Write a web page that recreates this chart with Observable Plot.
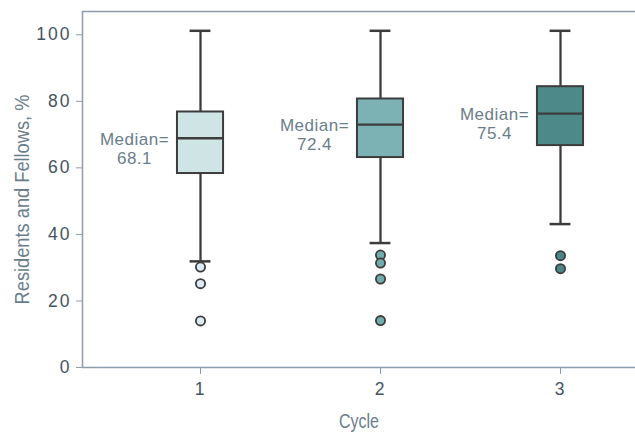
<!DOCTYPE html>
<html>
<head>
<meta charset="utf-8">
<script src="https://cdn.jsdelivr.net/npm/d3@7"></script>
<script src="https://cdn.jsdelivr.net/npm/@observablehq/plot@0.6"></script>
<style>
  html, body { margin: 0; padding: 0; background: #fff; }
  #chart svg { display: block; }
</style>
</head>
<body>
<div id="chart"></div>
<script>
// Data
const cycles = [1, 2, 3];
const whiskerLow = [31.9, 37.4, 43.1];
const q1 = [58.3, 63.1, 66.7];
const medianLine = [68.9, 73.0, 76.3];
const q3 = [76.8, 80.7, 84.4];
const whiskerHigh = [101.2, 101.2, 101.2];
const medianLabels = ["68.1", "72.4", "75.4"];
const outlierCycle = [1, 1, 1, 2, 2, 2, 2, 3, 3];
const outlierValue = [30.2, 25.2, 14.0, 33.8, 31.4, 26.6, 14.1, 33.6, 29.7];
const yTicks = [0, 20, 40, 60, 80, 100];
const yLabel = "Residents and Fellows, %";
const xLabel = "Cycle";

const boxFill = ["#cfe4e4", "#7cb2b3", "#4e898a"];
const dotFill = ["#dcecf4", "#72abab", "#4a8686"];

const boxes = cycles.map((c, i) => ({
  cycle: c, low: whiskerLow[i], q1: q1[i], median: medianLine[i], q3: q3[i],
  high: whiskerHigh[i], label: medianLabels[i], fill: boxFill[i]
}));
const outliers = outlierCycle.map((c, i) => ({cycle: c, value: outlierValue[i], fill: dotFill[c - 1]}));

const boxHalf = 0.128;   // half box width in x units
const capHalf = 0.058;   // half cap width in x units
const ink = "#3c3c3c";
const axisColor = "#8d9dab";
const tickText = "#44535f";
const labelColor = "#6a7d8a";

const chart = Plot.plot({
  width: 635,
  height: 433,
  marginLeft: 82,
  marginRight: 0,
  marginTop: 11,
  marginBottom: 66,
  style: {fontFamily: "'Liberation Sans', Arial, sans-serif", background: "#fff"},
  x: {type: "linear", domain: [0.3444, 3.4167]},
  y: {domain: [0, 107]},
  marks: [
    // frame lines
    Plot.ruleY([0], {stroke: axisColor, strokeWidth: 1.5}),
    Plot.ruleY([107], {stroke: axisColor, strokeWidth: 1.5}),
    Plot.ruleX([0.3444], {stroke: axisColor, strokeWidth: 1.5}),
    Plot.axisY({ticks: yTicks, tickSize: 6, tickPadding: 5, stroke: axisColor, fill: tickText, fontSize: 17.5, label: null}),
    Plot.axisX({ticks: cycles, tickFormat: d3.format("d"), tickSize: 7, tickPadding: 8, stroke: axisColor, fill: tickText, fontSize: 17.5, label: null}),
    // whiskers
    Plot.ruleX(boxes, {x: "cycle", y1: "low", y2: "high", stroke: ink, strokeWidth: 2.3}),
    // caps
    Plot.ruleY(boxes, {y: "high", x1: d => d.cycle - capHalf, x2: d => d.cycle + capHalf, stroke: ink, strokeWidth: 2.5}),
    Plot.ruleY(boxes, {y: "low", x1: d => d.cycle - capHalf, x2: d => d.cycle + capHalf, stroke: ink, strokeWidth: 2.5}),
    // boxes
    Plot.rect(boxes, {x1: d => d.cycle - boxHalf, x2: d => d.cycle + boxHalf, y1: "q1", y2: "q3", fill: "fill", stroke: ink, strokeWidth: 2}),
    // medians
    Plot.ruleY(boxes, {y: "median", x1: d => d.cycle - boxHalf, x2: d => d.cycle + boxHalf, stroke: ink, strokeWidth: 2.3}),
    // outliers
    Plot.dot(outliers, {x: "cycle", y: "value", r: 4.6, fill: "fill", stroke: ink, strokeWidth: 1.8}),
    // median labels
    Plot.text(boxes, {x: "cycle", y: "median", text: d => `Median=\n${d.label}`, dx: -66, dy: 10, lineAnchor: "middle", lineHeight: 1.12, fill: labelColor, fontSize: 17, textAnchor: "middle"}),
    // axis labels
    Plot.text([yLabel], {frameAnchor: "left", textAnchor: "middle", lineAnchor: "middle", rotate: -90, dx: -60, dy: 10, fill: labelColor, fontSize: 20}),
    Plot.text([xLabel], {frameAnchor: "bottom", textAnchor: "middle", lineAnchor: "middle", dy: 54, fill: labelColor, fontSize: 20})
  ]
});

document.getElementById("chart").appendChild(chart);

// Text styling tweaks: wide-spaced tick digits, condensed axis titles
const svg = d3.select(chart);
svg.selectAll('g[aria-label="y-axis tick label"] text, g[aria-label="x-axis tick label"] text').attr("letter-spacing", "2px");
svg.selectAll("text").filter(function () { return this.textContent.startsWith("Median="); }).attr("letter-spacing", "0.5px");
function condense(label, target) {
  svg.selectAll("text").filter(function () { return this.textContent === label; }).each(function () {
    const len = this.getComputedTextLength();
    const sx = target / len;
    const t = this.getAttribute("transform") || "";
    this.setAttribute("transform", `${t} scale(${sx},1)`);
  });
}
condense(yLabel, 210);
condense(xLabel, 40);
</script>
</body>
</html>
